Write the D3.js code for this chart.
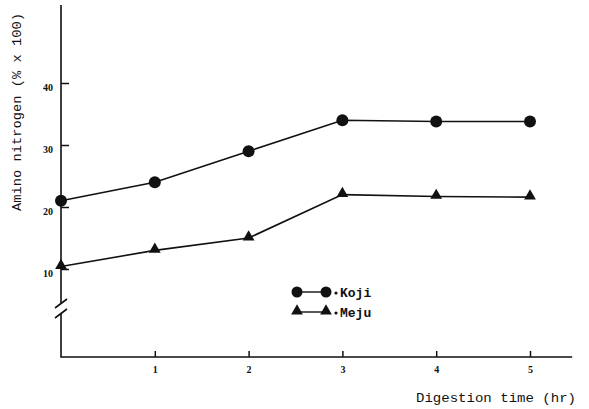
<!DOCTYPE html>
<html>
<head>
<meta charset="utf-8">
<script src="https://cdn.jsdelivr.net/npm/d3@7/dist/d3.min.js"></script>
<style>
  html, body { margin: 0; padding: 0; background: #fff; }
  svg { display: block; }
  .tick text { font-family: "Liberation Serif", serif; font-weight: bold; font-size: 10px; fill: #111; }
  .tick line { stroke: #111; stroke-width: 1.5; }
</style>
</head>
<body>
<svg id="chart" width="589" height="409"></svg>
<script>
// Digestion time (hr)
const hours = [0, 1, 2, 3, 4, 5];
// Amino nitrogen (% x 100)
const koji = [21, 24, 29, 34, 33.8, 33.8];
const meju = [10.4, 13, 15, 22, 21.7, 21.6];
const xTicks = [1, 2, 3, 4, 5];
const yTicks = [10, 20, 30, 40];
const seriesNames = ["Koji", "Meju"];

const svg = d3.select("#chart");
const ink = "#111";

const x = d3.scaleLinear().domain([0, 5]).range([61, 530]);
const y = d3.scaleLinear().domain([10, 40]).range([269, 83]);

const axisY0 = 357;   // baseline of the x axis
const xEnd = x(5.45);
const yTop = y(52.6);

// Axis lines, with a break in the value axis below 10
svg.append("path")
  .attr("d", `M${x(0)},${yTop} V303 M${x(0)},313 V${axisY0} H${xEnd}`)
  .attr("fill", "none").attr("stroke", ink).attr("stroke-width", 1.6);
svg.append("path")
  .attr("d", `M${x(0) - 6},308 L${x(0) + 6},299 M${x(0) - 6},318 L${x(0) + 6},309`)
  .attr("fill", "none").attr("stroke", ink).attr("stroke-width", 1.6);

// Value axis ticks (pointing inward)
const gy = svg.append("g")
  .attr("transform", `translate(${x(0)},0)`)
  .call(d3.axisLeft(y).tickValues(yTicks).tickSizeInner(-8).tickSizeOuter(0).tickPadding(8));
gy.select(".domain").remove();
gy.selectAll(".tick text").attr("dy", "0.7em");

// Time axis ticks (pointing up)
const gx = svg.append("g")
  .attr("transform", `translate(0,${axisY0})`)
  .call(d3.axisBottom(x).tickValues(xTicks).tickFormat(d3.format("d")).tickSizeInner(-6).tickSizeOuter(0).tickPadding(9));
gx.select(".domain").remove();

// Series lines
const line = d3.line().x((d, i) => x(hours[i])).y(d => y(d));
[koji, meju].forEach(vals => {
  svg.append("path").datum(vals)
    .attr("d", line)
    .attr("fill", "none").attr("stroke", ink).attr("stroke-width", 1.6);
});

const tri = d3.symbol().type(d3.symbolTriangle).size(60);

// Koji markers
svg.selectAll("circle.koji").data(koji).join("circle")
  .attr("class", "koji")
  .attr("cx", (d, i) => x(hours[i])).attr("cy", d => y(d))
  .attr("r", 6).attr("fill", ink);

// Meju markers
svg.selectAll("path.meju").data(meju).join("path")
  .attr("class", "meju")
  .attr("d", tri)
  .attr("transform", (d, i) => `translate(${x(hours[i])},${y(d) - 1})`)
  .attr("fill", ink);

// Legend
const lg = svg.append("g");
const legRows = [{ y: 292, name: seriesNames[0] }, { y: 312, name: seriesNames[1] }];
legRows.forEach((r, k) => {
  lg.append("line").attr("x1", 297).attr("x2", 326).attr("y1", r.y).attr("y2", r.y)
    .attr("stroke", ink).attr("stroke-width", 1.4);
  [297, 326].forEach(cx => {
    if (k === 0) {
      lg.append("circle").attr("cx", cx).attr("cy", r.y).attr("r", 5.5).attr("fill", ink);
    } else {
      lg.append("path").attr("d", tri).attr("transform", `translate(${cx},${r.y - 1})`).attr("fill", ink);
    }
  });
  lg.append("circle").attr("cx", 336).attr("cy", r.y + 1).attr("r", 1.6).attr("fill", ink);
  lg.append("text").attr("x", 340).attr("y", r.y + 5)
    .attr("font-family", "Liberation Mono, monospace").attr("font-size", 13).attr("font-weight", "bold")
    .attr("fill", ink).text(r.name);
});

// Axis titles
svg.append("text")
  .attr("transform", "translate(21,112) rotate(-90)")
  .attr("text-anchor", "middle")
  .attr("font-family", "Liberation Mono, monospace").attr("font-size", 13)
  .attr("textLength", 198).attr("lengthAdjust", "spacingAndGlyphs")
  .attr("fill", ink).text("Amino nitrogen (% x 100)");

svg.append("text")
  .attr("x", 416).attr("y", 402)
  .attr("font-family", "Liberation Mono, monospace").attr("font-size", 13)
  .attr("textLength", 160).attr("lengthAdjust", "spacingAndGlyphs")
  .attr("fill", ink).text("Digestion time (hr)");
</script>
</body>
</html>
